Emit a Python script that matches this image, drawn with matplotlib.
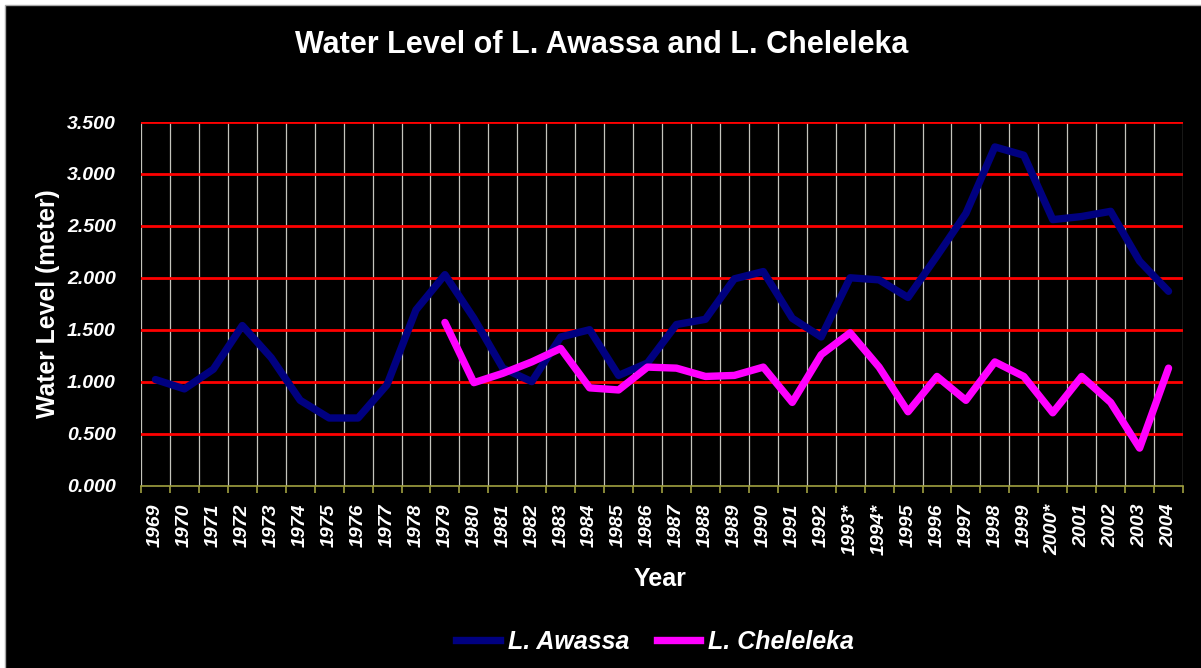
import matplotlib
matplotlib.use("Agg")
import matplotlib.pyplot as plt
from matplotlib.patches import Rectangle
from matplotlib.lines import Line2D
import numpy as np

years = ["1969", "1970", "1971", "1972", "1973", "1974", "1975", "1976", "1977", "1978",
         "1979", "1980", "1981", "1982", "1983", "1984", "1985", "1986", "1987", "1988",
         "1989", "1990", "1991", "1992", "1993*", "1994*", "1995", "1996", "1997", "1998",
         "1999", "2000*", "2001", "2002", "2003", "2004"]

awassa = [1.02, 0.93, 1.12, 1.54, 1.23, 0.82, 0.65, 0.65, 0.97, 1.69,
          2.03, 1.61, 1.13, 1.00, 1.43, 1.50, 1.06, 1.18, 1.55, 1.60,
          1.99, 2.06, 1.61, 1.43, 2.00, 1.98, 1.81, 2.21, 2.62, 3.26,
          3.18, 2.56, 2.59, 2.64, 2.16, 1.87]

cheleleka = [np.nan, np.nan, np.nan, np.nan, np.nan, np.nan, np.nan, np.nan, np.nan, np.nan,
             1.57, 0.99, 1.08, 1.19, 1.32, 0.94, 0.92, 1.14, 1.13, 1.05,
             1.06, 1.14, 0.80, 1.26, 1.47, 1.14, 0.71, 1.05, 0.82, 1.19,
             1.05, 0.70, 1.05, 0.80, 0.36, 1.13]

yticks = [0.0, 0.5, 1.0, 1.5, 2.0, 2.5, 3.0, 3.5]

plt.rcParams['font.family'] = ['Liberation Sans', 'DejaVu Sans']

W, H = 1201, 668
fig = plt.figure(figsize=(W / 100, H / 100), dpi=100, facecolor='white')
fig.patches.append(Rectangle((5 / W, 0), 1 - 5 / W, 1 - 5 / H, transform=fig.transFigure,
                             facecolor='black', edgecolor='none', zorder=-10))
fig.lines.append(Line2D([5 / W, 5 / W, 1], [0, 1 - 5 / H, 1 - 5 / H], transform=fig.transFigure,
                        color='#a8a8a8', lw=1, zorder=-9))

ax = fig.add_axes([141 / W, 1 - 485.5 / H, (1183 - 141) / W, (485.5 - 122) / H])
ax.set_facecolor('black')

x = np.arange(len(years))
n = len(years)

# vertical grid at category boundaries
for b in np.arange(-0.5, n, 1.0):
    ax.axvline(b, color='#c4c4bc', lw=0.9, zorder=1)
# horizontal red grid
for yv in yticks[1:]:
    ax.axhline(yv, color='#ff0000', lw=2, zorder=1)

ax.plot(x, awassa, color='#000080', lw=5.3, solid_joinstyle='round',
        solid_capstyle='round', zorder=3, label='L. Awassa')
ax.plot(x, cheleleka, color='#ff00ff', lw=5.3, solid_joinstyle='round',
        solid_capstyle='round', zorder=4, label='L. Cheleleka')

ax.set_xlim(-0.5, n - 0.5)
ax.set_ylim(0, 3.5)

for s in ['top', 'right', 'left']:
    ax.spines[s].set_visible(False)
ax.spines['bottom'].set_color('#a0a040')
ax.spines['bottom'].set_linewidth(1.2)
ax.spines['bottom'].set_zorder(5)

ax.set_xticks(x)
ax.set_xticklabels(years, rotation=90, fontsize=14, fontweight='bold',
                   fontstyle='italic', color='white', va='top')
ax.tick_params(axis='x', which='major', length=0, pad=13)
ax.set_xticks(np.arange(-0.5, n, 1.0), minor=True)
ax.tick_params(axis='x', which='minor', length=5, color='#a0a040', width=1.2)

ax.set_yticks(yticks)
ax.set_yticklabels([f"{v:.3f}" for v in yticks], fontsize=14, fontweight='bold',
                   fontstyle='italic', color='white')
ax.tick_params(axis='y', length=0, pad=18)

fig.text(602 / W, 1 - 45 / H, "Water Level of L. Awassa and L. Cheleleka",
         ha='center', va='center', color='white', fontsize=22, fontweight='bold')
fig.text(48 / W, 1 - 304 / H, "Water Level (meter)", rotation=90,
         ha='center', va='center', color='white', fontsize=17.8, fontweight='bold')
fig.text(660 / W, 1 - 579 / H, "Year", ha='center', va='center', color='white',
         fontsize=18, fontweight='bold')

handles = [Line2D([], [], color='#000080', lw=5.3), Line2D([], [], color='#ff00ff', lw=5.3)]
leg = fig.legend(handles, ['L. Awassa', 'L. Cheleleka'], loc='center',
                 bbox_to_anchor=(655 / W, 1 - 642 / H), ncol=2, frameon=False,
                 prop={'size': 18, 'weight': 'bold', 'style': 'italic'},
                 handlelength=1.75, handletextpad=0.3, columnspacing=1.1)
for t in leg.get_texts():
    t.set_color('white')

fig.savefig('out.png', dpi=100, facecolor='white')
